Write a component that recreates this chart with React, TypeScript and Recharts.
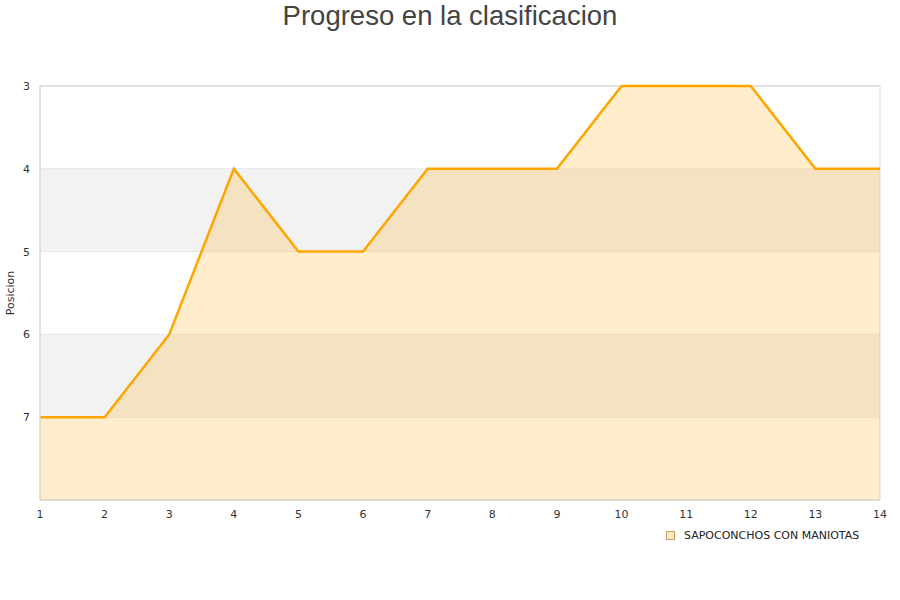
import { AreaChart, Area, XAxis, YAxis, CartesianGrid, ReferenceArea } from "recharts"

const jornadas = [1, 2, 3, 4, 5, 6, 7, 8, 9, 10, 11, 12, 13, 14]
const posiciones = [7, 7, 6, 4, 5, 5, 4, 4, 4, 3, 3, 3, 4, 4]
const yTicks = [3, 4, 5, 6, 7]
const equipo = "SAPOCONCHOS CON MANIOTAS"

const data = jornadas.map((j, i) => ({ jornada: j, posicion: posiciones[i] }))

const ORANGE = "#ffa500"
const FONT = "DejaVu Sans, sans-serif"

function LegendBox() {
  return (
    <div
      style={{
        position: "absolute",
        left: 666,
        top: 529,
        display: "flex",
        alignItems: "center",
        fontFamily: FONT,
        fontSize: 11,
        color: "#222",
      }}
    >
      <span
        style={{
          width: 7,
          height: 7,
          border: "1px solid #c8a060",
          background: "#fde9c4",
          marginRight: 9,
        }}
      />
      {equipo}
    </div>
  )
}

export default function App() {
  return (
    <div style={{ position: "absolute", left: 0, top: 0, width: 900, height: 600, background: "#fff" }}>
      <div
        style={{
          position: "absolute",
          top: 0,
          left: 0,
          width: 900,
          textAlign: "center",
          fontFamily: "Liberation Sans, Arial, sans-serif",
          fontSize: 27.5,
          lineHeight: "32px",
          color: "#444",
        }}
      >
        Progreso en la clasificacion
      </div>
      <AreaChart width={900} height={600} data={data} margin={{ top: 86, right: 20, bottom: 70, left: 0 }}>
        <ReferenceArea y1={4} y2={5} fill="#f2f2f2" fillOpacity={1} stroke="none" ifOverflow="hidden" />
        <ReferenceArea y1={6} y2={7} fill="#f2f2f2" fillOpacity={1} stroke="none" ifOverflow="hidden" />
        <CartesianGrid vertical={false} stroke="#e0e0e0" strokeDasharray="" />
        <XAxis
          dataKey="jornada"
          type="number"
          domain={[1, 14]}
          ticks={jornadas}
          height={30}
          tickLine={false}
          tickSize={0}
          tickMargin={10}
          axisLine={{ stroke: "#d8d8d8" }}
          tick={{ fontFamily: FONT, fontSize: 11, fill: "#333" }}
        />
        <YAxis
          reversed
          domain={[3, 8]}
          ticks={yTicks}
          width={40}
          tickLine={false}
          tickSize={0}
          tickMargin={10}
          axisLine={{ stroke: "#d8d8d8" }}
          tick={{ fontFamily: FONT, fontSize: 11, fill: "#333" }}
          label={{
            value: "Posicion",
            angle: -90,
            position: "insideLeft",
            offset: 10,
            style: { fontFamily: FONT, fontSize: 11, fill: "#333", textAnchor: "middle" },
          }}
        />
        <ReferenceArea x1={1} x2={14} y1={3} y2={8} fill="none" stroke="#d8d8d8" ifOverflow="visible" />
        <Area
          type="linear"
          dataKey="posicion"
          baseValue={8}
          stroke={ORANGE}
          strokeWidth={2.5}
          fill={ORANGE}
          fillOpacity={0.2}
          dot={false}
          activeDot={false}
          isAnimationActive={false}
        />
      </AreaChart>
      <LegendBox />
    </div>
  )
}
